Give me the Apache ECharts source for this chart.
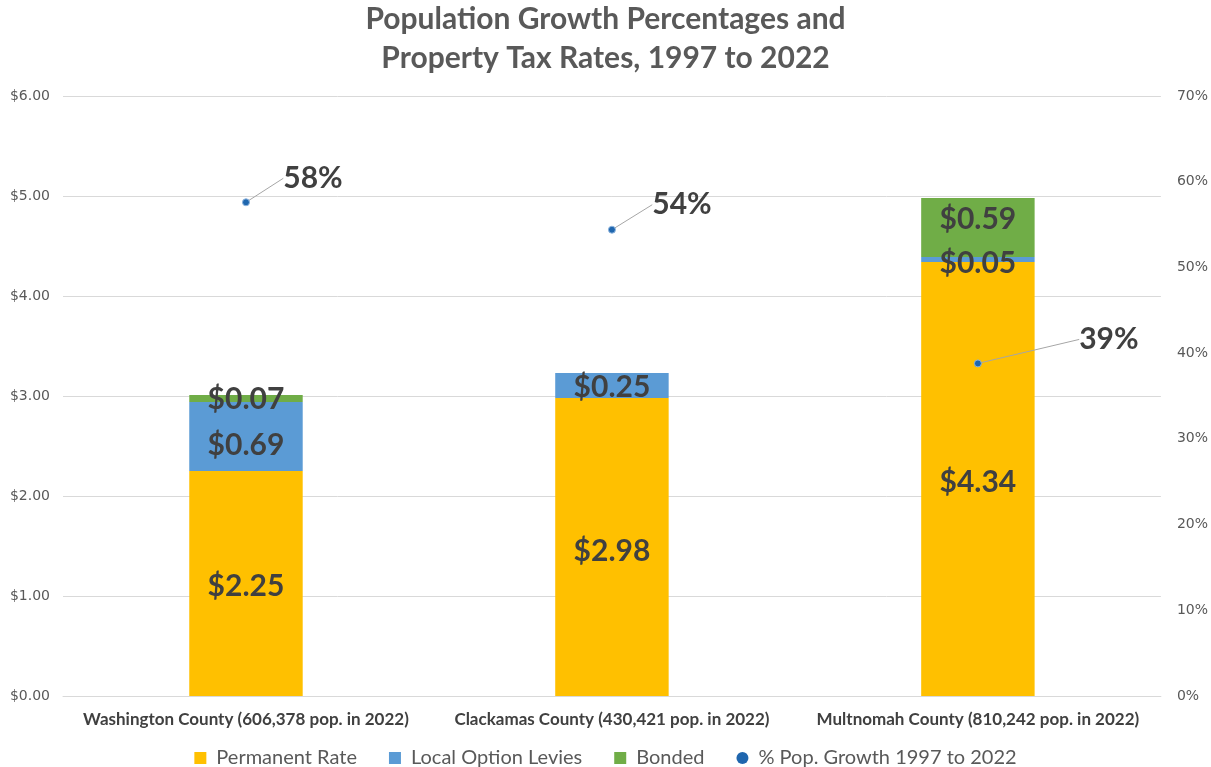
<!DOCTYPE html>
<html>
<head>
<meta charset="utf-8">
<script src="https://cdn.jsdelivr.net/npm/echarts@6/dist/echarts.min.js"></script>
<style>
  html, body { margin: 0; padding: 0; background: #fff; }
  #chart { width: 1211px; height: 767px; }
</style>
</head>
<body>
<div id="chart"></div>
<script>
  var categories = ['Washington County (606,378 pop. in 2022)', 'Clackamas County (430,421 pop. in 2022)', 'Multnomah County (810,242 pop. in 2022)'];
  var permanentRate = [2.25, 2.98, 4.34];
  var localOptionLevies = [0.69, 0.25, 0.05];
  var bonded = [0.07, 0, 0.59];
  var popGrowth = [0.576, 0.544, 0.388];
  var leftTicks = { min: 0, max: 6, interval: 1 };
  var rightTicks = { min: 0, max: 0.7, interval: 0.1 };

  var fontName = 'Lato, "Open Sans", sans-serif';
  // where the growth labels sit relative to their dots
  var growthLabelShift = [[67, -24], [70, -25], [131, -24]];
  // small vertical nudges of bar labels (like excel does), by series index
  var barLabelNudge = [
    [3, 4, 3],
    [9, 2, 4],
    [1, 0, -8]
  ];

  var chart = echarts.init(document.getElementById('chart'));

  var barLabel = {
    show: true,
    position: 'inside',
    color: '#404040',
    fontSize: 30,
    fontWeight: 'bold',
    fontFamily: fontName,
    formatter: function (p) {
      return p.value ? '$' + p.value.toFixed(2) : '';
    }
  };
  function nudgeBarLabel(p) {
    var row = barLabelNudge[p.seriesIndex] || [];
    return { dy: row[p.dataIndex] || 0 };
  }

  chart.setOption({
    animation: false,
    textStyle: { fontFamily: fontName },
    title: {
      text: 'Population Growth Percentages and\nProperty Tax Rates, 1997 to 2022',
      left: 'center',
      top: -5,
      textStyle: { color: '#595959', fontSize: 30, fontWeight: 'bold', lineHeight: 39, fontFamily: fontName }
    },
    legend: {
      top: 743,
      left: 'center',
      itemWidth: 12,
      itemHeight: 12,
      itemGap: 32,
      textStyle: { color: '#595959', fontSize: 20, fontFamily: fontName, padding: [0, 0, 0, 5] },
      data: [
        { name: 'Permanent Rate', icon: 'rect' },
        { name: 'Local Option Levies', icon: 'rect' },
        { name: 'Bonded', icon: 'rect' },
        { name: '% Pop. Growth 1997 to 2022', icon: 'circle', itemStyle: { borderWidth: 0 } }
      ]
    },
    grid: { left: 63, right: 48, top: 96, bottom: 71 },
    xAxis: {
      type: 'category',
      data: categories,
      axisTick: { show: false },
      axisLine: { lineStyle: { color: '#d9d9d9', width: 1 } },
      axisLabel: { color: '#404040', fontSize: 17, fontWeight: 'bold', margin: 15, interval: 0 }
    },
    yAxis: [{
      type: 'value',
      min: leftTicks.min,
      max: leftTicks.max,
      interval: leftTicks.interval,
      axisLine: { show: false },
      axisTick: { show: false },
      splitLine: { lineStyle: { color: '#d9d9d9', width: 1 } },
      axisLabel: {
        color: '#595959', fontSize: 14, margin: 13, fontFamily: '"DejaVu Sans", sans-serif',
        formatter: function (v) { return '$' + v.toFixed(2); }
      }
    }, {
      type: 'value',
      min: rightTicks.min,
      max: rightTicks.max,
      interval: rightTicks.interval,
      axisLine: { show: false },
      axisTick: { show: false },
      splitLine: { show: false },
      axisLabel: {
        color: '#595959', fontSize: 14, margin: 16, fontFamily: '"DejaVu Sans", sans-serif',
        formatter: function (v) { return Math.round(v * 100) + '%'; }
      }
    }],
    series: [{
      name: 'Permanent Rate',
      type: 'bar',
      stack: 'tax',
      barWidth: '31%',
      itemStyle: { color: '#FFC000' },
      label: barLabel,
      labelLayout: nudgeBarLabel,
      data: permanentRate
    }, {
      name: 'Local Option Levies',
      type: 'bar',
      stack: 'tax',
      itemStyle: { color: '#5B9BD5' },
      label: barLabel,
      labelLayout: nudgeBarLabel,
      data: localOptionLevies
    }, {
      name: 'Bonded',
      type: 'bar',
      stack: 'tax',
      itemStyle: { color: '#70AD47' },
      label: barLabel,
      labelLayout: nudgeBarLabel,
      data: bonded
    }, {
      name: '% Pop. Growth 1997 to 2022',
      type: 'scatter',
      yAxisIndex: 1,
      symbolSize: 7,
      itemStyle: { color: '#1F66AE', borderColor: '#8DB4DE', borderWidth: 1, opacity: 1 },
      z: 5,
      label: {
        show: true,
        position: 'inside',
        color: '#404040',
        fontSize: 30,
        fontWeight: 'bold',
        fontFamily: fontName,
        formatter: function (p) { return Math.round(p.value * 100) + '%'; }
      },
      labelLine: { show: true, lineStyle: { color: '#a6a6a6', width: 1 } },
      labelLayout: function (p) {
        var s = growthLabelShift[p.dataIndex];
        return { dx: s[0], dy: s[1] };
      },
      data: popGrowth
    }]
  });
</script>
</body>
</html>
